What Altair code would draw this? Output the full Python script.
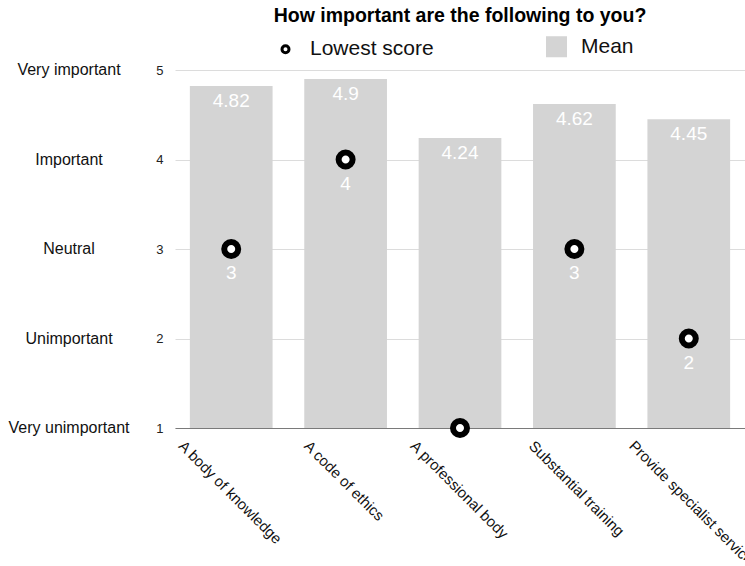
import altair as alt
import pandas as pd

# Survey items and their scores (1 = very unimportant ... 5 = very important)
categories = [
    "A body of knowledge",
    "A code of ethics",
    "A professional body",
    "Substantial training",
    "Provide specialist service",
]
mean_scores = [4.82, 4.9, 4.24, 4.62, 4.45]
lowest_scores = [3, 4, 1, 3, 2]

rating_values = [1, 2, 3, 4, 5]
rating_names = ["Very unimportant", "Unimportant", "Neutral", "Important", "Very important"]

series_names = ["Lowest score", "Mean"]

FONT = "Liberation Sans"
GREY = "#d4d4d4"
# unit-space symbol paths: a small ring and a near-full square
RING = "M-0.35,0A0.35,0.35,0,1,1,0.35,0A0.35,0.35,0,1,1,-0.35,0Z"
BLOCK = "M-0.9,-0.9H0.9V0.9H-0.9Z"

# per-label horizontal nudges for the slanted item names
label_nudge = {
    "A body of knowledge": -45,
    "A code of ethics": -34,
    "A professional body": -42,
    "Substantial training": -38,
    "Provide specialist service": -52,
}

bars_df = pd.DataFrame({"item": categories, "score": mean_scores, "series": "Mean"})
points_df = pd.DataFrame({"item": categories, "score": lowest_scores, "series": "Lowest score"})
ratings_df = pd.DataFrame({"score": rating_values, "name": rating_names})

legend = alt.Legend(
    title=None,
    orient="none",
    legendX=99,
    legendY=-35,
    direction="horizontal",
    symbolSize=400,
    symbolStrokeWidth=3,
    symbolOpacity=1,
    labelFont=FONT,
    labelFontSize=21,
    labelColor="#111111",
    labelOffset=13,
    columnPadding=107,
    padding=0,
)

fill = alt.Fill("series:N", scale=alt.Scale(domain=series_names, range=["white", GREY]), legend=legend)
stroke = alt.Stroke("series:N", scale=alt.Scale(domain=series_names, range=["black", GREY]), legend=legend)
shape = alt.Shape("series:N", scale=alt.Scale(domain=series_names, range=[RING, BLOCK]), legend=legend)

x = alt.X(
    "item:N",
    sort=categories,
    scale=alt.Scale(paddingInner=0.277, paddingOuter=0.13),
    axis=alt.Axis(
        title=None,
        labelAngle=45,
        labelAlign="left",
        labelBaseline="top",
        labelPadding=10,
        labelOffset={
            "condition": [
                {"test": f"datum.value === '{k}'", "value": v} for k, v in label_nudge.items()
            ],
            "value": -42,
        },
        ticks=False,
        grid=False,
        domainColor="#7a7a7a",
        domainWidth=1,
        labelFont=FONT,
        labelFontSize=15,
        labelColor="#111111",
        labelLimit=400,
    ),
)

y_scale = alt.Scale(domain=[1, 5], nice=False, zero=False)
y_axis = alt.Axis(
    title=None,
    values=rating_values,
    format="d",
    ticks=False,
    domain=False,
    grid=True,
    gridColor="#dcdcdc",
    gridWidth=1,
    labelPadding=12,
    labelFont=FONT,
    labelFontSize=13,
    labelColor="#222222",
)
y = alt.Y("score:Q", scale=y_scale, axis=y_axis)

bars = alt.Chart(bars_df).mark_bar(opacity=1, strokeWidth=0).encode(
    x=x, y=y, y2=alt.datum(1), fill=fill
)

bar_labels = alt.Chart(bars_df).mark_text(
    color="white", baseline="top", dy=6, fontSize=19, font=FONT
).encode(x=x, y=y, text=alt.Text("score:Q", format=".3~g"))

points = alt.Chart(points_df).mark_point(
    filled=True, size=1600, strokeWidth=6, opacity=1
).encode(x=x, y=y, fill=fill, stroke=stroke, shape=shape)

point_labels = alt.Chart(points_df).mark_text(
    color="white", baseline="middle", dy=24, fontSize=19, font=FONT
).encode(x=x, y=y, text=alt.Text("score:Q", format="d"))

rating_labels = alt.Chart(ratings_df).mark_text(
    align="center", baseline="middle", fontSize=16, font=FONT, color="#111111"
).encode(
    x=alt.value(-106),
    y=y,
    text="name:N",
)

chart = (
    alt.layer(bars, bar_labels, points, point_labels, rating_labels)
    .properties(
        width=570,
        height=358,
        title=alt.TitleParams(
            "How important are the following to you?",
            font=FONT,
            fontSize=19.5,
            fontWeight="bold",
            color="#000000",
            anchor="middle",
            dy=-5,
        ),
        autosize=alt.AutoSizeParams(type="none"),
        padding={"left": 175, "top": 70, "right": 0, "bottom": 132},
    )
    .configure_view(stroke=None)
)

chart.save("out.html", embed_options={"renderer": "svg", "actions": False})
